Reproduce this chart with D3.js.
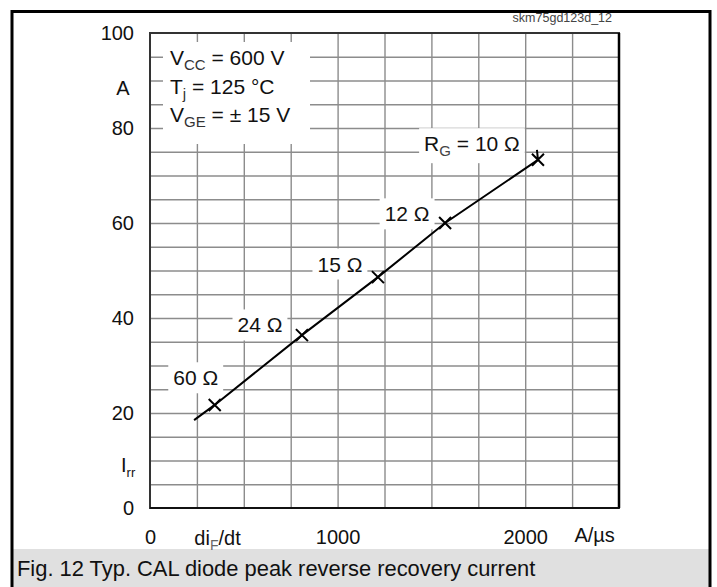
<!DOCTYPE html>
<html><head><meta charset="utf-8">
<script src="https://cdn.jsdelivr.net/npm/d3@7"></script>
<style>body{margin:0;background:#fff;overflow:hidden} text{font-family:"Liberation Sans",Arial,Helvetica,sans-serif}</style>
</head><body><svg id="c" width="717" height="587"></svg>
<script>
// ---- data ----
const diF = [345, 810, 1215, 1573, 2068];          // A/µs, marker positions
const Irr = [21.7, 36.4, 48.6, 60.0, 73.3];         // A
const rgLabels = ["60 Ω", "24 Ω", "15 Ω", "12 Ω", "10 Ω"];
const curveX = [235, 345, 810, 1215, 1573, 2068];
const curveY = [18.5, 21.7, 36.4, 48.6, 60.0, 73.3];
const yTicks = [0, 20, 40, 60, 80, 100];
const xTicks = [0, 1000, 2000];
const conditionLines = [
  [["V", ""], ["CC", "sub"], [" = 600 V", ""]],
  [["T", ""], ["j", "sub"], ["  = 125 °C", ""]],
  [["V", ""], ["GE", "sub"], [" = ± 15 V", ""]]
];
const figId = "skm75gd123d_12";
const caption = "Fig. 12 Typ. CAL diode peak reverse recovery current";

// ---- layout ----
const svg = d3.select("#c");
const X0 = 150, X1 = 619, Y0 = 508, Y1 = 33;
const x = d3.scaleLinear().domain([0, 2500]).range([X0, X1]);
const y = d3.scaleLinear().domain([0, 100]).range([Y0, Y1]);
const FS = 20;

svg.append("rect").attr("width", 717).attr("height", 587).attr("fill", "#fff");
// caption band
svg.append("rect").attr("x", 13).attr("y", 549).attr("width", 696).attr("height", 40).attr("fill", "#e0e0e0");
svg.append("text").attr("x", 17).attr("y", 576).attr("font-size", 21.9).attr("fill", "#111").text(caption);
// outer frame
svg.append("rect").attr("x", 12).attr("y", 11.5).attr("width", 698).attr("height", 600)
  .attr("fill", "none").attr("stroke", "#000").attr("stroke-width", 3);
svg.append("text").attr("x", 612).attr("y", 22).attr("text-anchor", "end")
  .attr("font-size", 12.5).attr("fill", "#444").text(figId);

// grid
const g = svg.append("g");
g.append("g").attr("transform", `translate(0,${Y0})`)
  .call(d3.axisBottom(x).tickValues(d3.range(250, 2500, 250)).tickSize(-(Y0 - Y1)).tickFormat(""))
  .call(s => s.select(".domain").remove())
  .call(s => s.selectAll("line").attr("stroke", "#8c8c8c").attr("stroke-width", 1.4));
g.append("g").attr("transform", `translate(${X0},0)`)
  .call(d3.axisLeft(y).tickValues(d3.range(5, 100, 5)).tickSize(-(X1 - X0)).tickFormat(""))
  .call(s => s.select(".domain").remove())
  .call(s => s.selectAll("line").attr("stroke", "#8c8c8c").attr("stroke-width", 1.4));

// plot frame
svg.append("rect").attr("x", X0).attr("y", Y1).attr("width", X1 - X0).attr("height", Y0 - Y1)
  .attr("fill", "none").attr("stroke", "#333").attr("stroke-width", 2);
svg.append("line").attr("x1", X1).attr("x2", X1).attr("y1", Y1).attr("y2", Y0).attr("stroke", "#000").attr("stroke-width", 2.5);
svg.append("line").attr("x1", X0).attr("x2", X1).attr("y1", Y0).attr("y2", Y0).attr("stroke", "#111").attr("stroke-width", 2.2);

// y tick labels
const yAx = svg.append("g").attr("transform", `translate(${X0 - 16},0)`)
  .call(d3.axisLeft(y).tickValues(yTicks).tickSize(0).tickPadding(0).tickFormat(d3.format("d")));
yAx.select(".domain").remove();
yAx.attr("font-size", FS).attr("font-family", null);
yAx.selectAll("text").attr("fill", "#111");
svg.append("text").attr("x", 123).attr("y", y(88.4)).attr("dy", "0.35em").attr("text-anchor", "middle")
  .attr("font-size", FS).attr("fill", "#111").text("A");
const irr = svg.append("text").attr("x", 121).attr("y", y(9)).attr("dy", "0.35em")
  .attr("font-size", FS).attr("fill", "#111");
irr.append("tspan").text("I");
irr.append("tspan").attr("font-size", 13).attr("dy", 5).text("rr");

// x tick labels
const xAx = svg.append("g").attr("transform", `translate(0,${Y0 + 22})`)
  .call(d3.axisBottom(x).tickValues(xTicks).tickSize(0).tickPadding(0).tickFormat(d3.format("d")));
xAx.select(".domain").remove();
xAx.attr("font-size", FS).attr("font-family", null);
xAx.selectAll("text").attr("fill", "#111");
const dl = svg.append("text").attr("x", x(360)).attr("y", Y0 + 37).attr("text-anchor", "middle")
  .attr("font-size", FS).attr("fill", "#111");
dl.append("tspan").text("di");
dl.append("tspan").attr("font-size", 14).attr("dy", 5).attr("fill", "#666").text("F");
dl.append("tspan").attr("dy", -5).text("/dt");
svg.append("text").attr("x", x(2370)).attr("y", Y0 + 34).attr("text-anchor", "middle")
  .attr("font-size", FS).attr("fill", "#111").text("A/µs");

// conditions box
svg.append("rect").attr("x", 163).attr("y", 42).attr("width", 147).attr("height", 102).attr("fill", "#fff");
conditionLines.forEach((segs, i) => {
  const t = svg.append("text").attr("x", 170).attr("y", 65 + i * 28.5).attr("font-size", 21).attr("fill", "#111");
  let shifted = 0;
  segs.forEach(([s, kind]) => {
    const ts = t.append("tspan").text(s);
    if (kind === "sub") { ts.attr("font-size", 15).attr("dy", 5).attr("fill", "#333"); shifted = 5; }
    else if (shifted) { ts.attr("dy", -shifted).attr("fill", "#111"); shifted = 0; }
  });
});

// curve
svg.append("path").datum(d3.zip(curveX, curveY))
  .attr("d", d3.line().x(d => x(d[0])).y(d => y(d[1])))
  .attr("fill", "none").attr("stroke", "#000").attr("stroke-width", 2);

// markers
const m = 6;
diF.forEach((v, i) => {
  const cx = x(v), cy = y(Irr[i]);
  svg.append("path").attr("d", `M${cx - m},${cy - m}L${cx + m},${cy + m}M${cx - m},${cy + m}L${cx + m},${cy - m}` +
      (i === diF.length - 1 ? `M${cx},${cy}L${cx - 1},${cy - 10}` : ""))
    .attr("stroke", "#000").attr("stroke-width", 2).attr("fill", "none");
});

// labels (offsets from marker, px)
const labelOff = [[-19, -27], [-42, -10], [-38, -13], [-38, -9], [-66, -16]];
diF.forEach((v, i) => {
  const lx = x(v) + labelOff[i][0], ly = y(Irr[i]) + labelOff[i][1];
  const lg = svg.append("g");
  const bg = lg.append("rect").attr("fill", "#fff");
  const t = lg.append("text").attr("x", lx).attr("y", ly).attr("dy", "0.35em").attr("text-anchor", "middle")
    .attr("font-size", 21).attr("fill", "#111");
  if (i === diF.length - 1) {
    t.append("tspan").text("R");
    t.append("tspan").attr("font-size", 15).attr("dy", 5).attr("fill", "#444").text("G");
    t.append("tspan").attr("dy", -5).attr("fill", "#111").text(" = " + rgLabels[i]);
  } else t.text(rgLabels[i]);
  const b = t.node().getBBox();
  bg.attr("x", b.x - 5).attr("y", b.y - 4).attr("width", b.width + 10).attr("height", b.height + 8);
});
</script></body></html>
